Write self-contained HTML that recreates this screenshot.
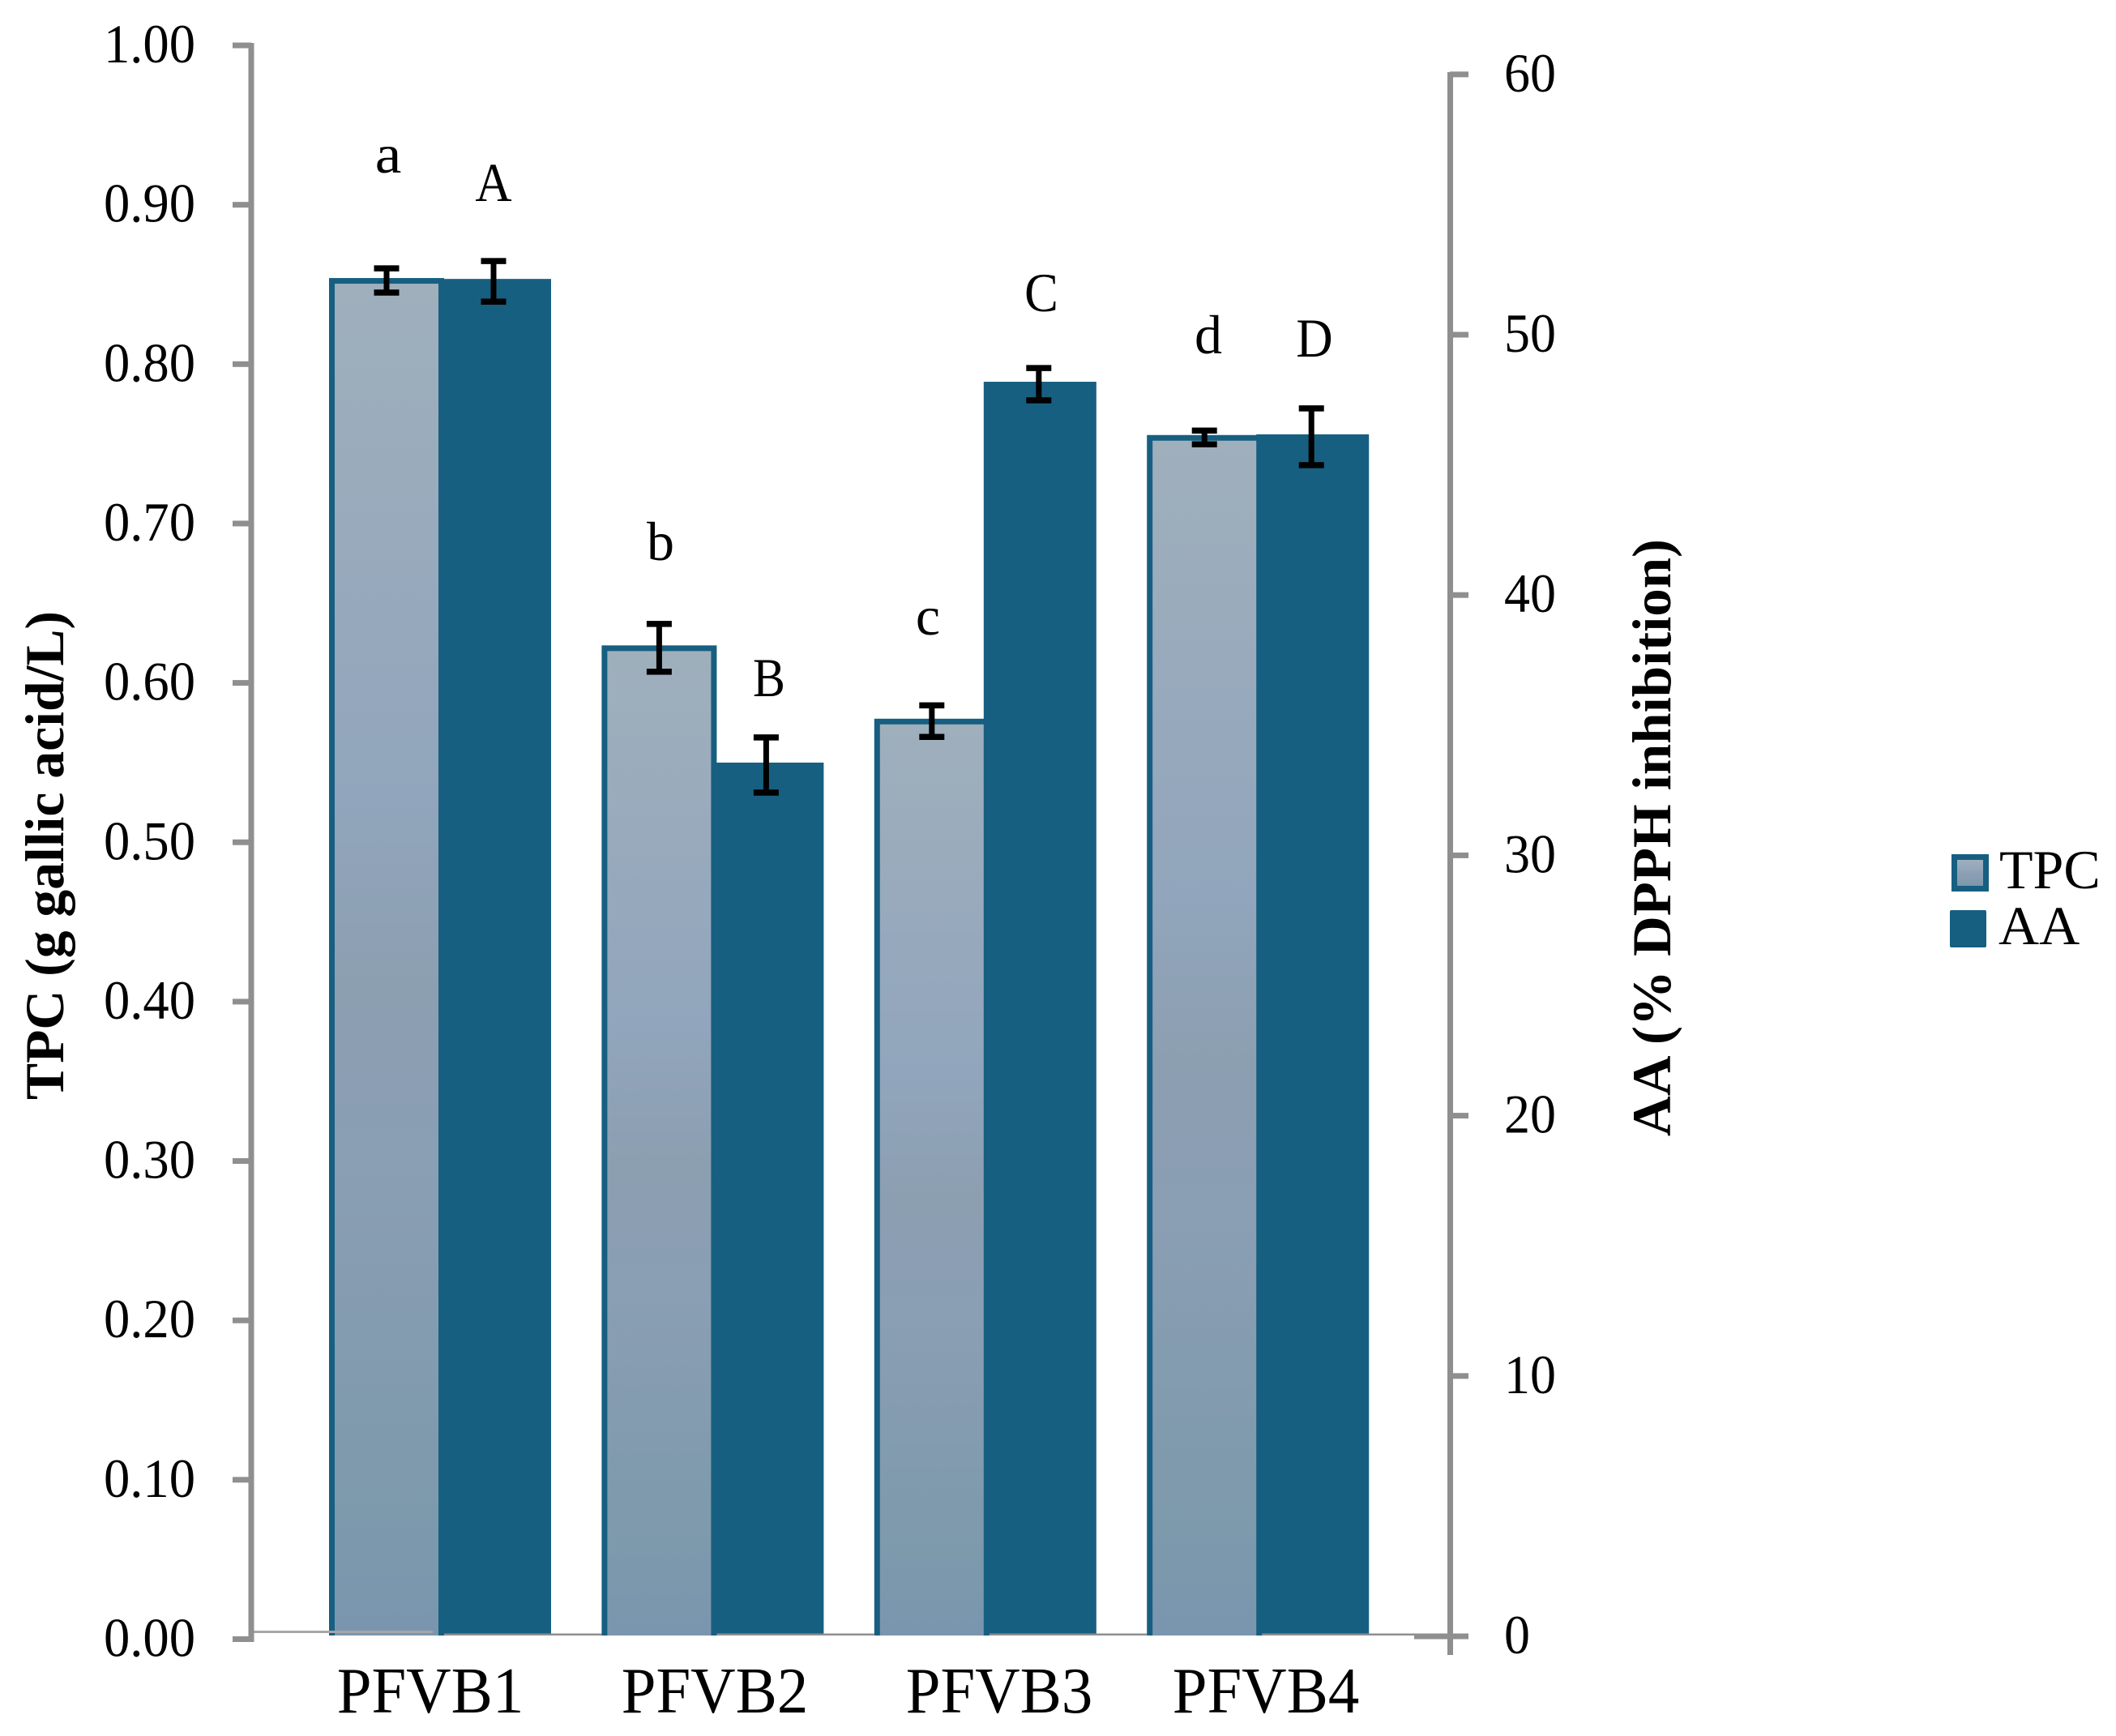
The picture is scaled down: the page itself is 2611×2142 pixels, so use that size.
<!DOCTYPE html>
<html lang="en">
<head>
<meta charset="utf-8">
<title>TPC and AA by PFVB sample</title>
<style>
  html, body { margin: 0; padding: 0; background: #fff; }
  svg { display: block; font-family: "Liberation Serif", serif; fill: #000; }
</style>
</head>
<body>
<svg id="chart" xmlns="http://www.w3.org/2000/svg" width="2611" height="2142" viewBox="0 0 2611 2142">
  <defs>
    <linearGradient id="tpc-fill" x1="0" y1="0" x2="0" y2="1">
      <stop offset="0" stop-color="#9fafbc"/>
      <stop offset="0.38" stop-color="#91a5bc"/>
      <stop offset="0.52" stop-color="#8c9fb1"/>
      <stop offset="0.65" stop-color="#8a9eb4"/>
      <stop offset="0.88" stop-color="#7e9aac"/>
      <stop offset="1" stop-color="#7a96ae"/>
    </linearGradient>
  </defs>
  <rect x="0" y="0" width="2611" height="2142" fill="#ffffff"/>
  <g id="bars"></g>
  <g id="errors"></g>
  <g id="axes"></g>

  <g font-size="68">
    <text text-anchor="middle" transform="translate(479 213) scale(1.08 1)">a</text>
    <text text-anchor="middle" transform="translate(609 248) scale(.92 1)">A</text>
    <text text-anchor="middle" transform="translate(815 691) scale(1 1)">b</text>
    <text text-anchor="middle" transform="translate(949 859) scale(.88 1)">B</text>
    <text text-anchor="middle" transform="translate(1145 783) scale(1 1)">c</text>
    <text text-anchor="middle" transform="translate(1285 384) scale(.92 1)">C</text>
    <text text-anchor="middle" transform="translate(1491 436) scale(1 1)">d</text>
    <text text-anchor="middle" transform="translate(1622 440) scale(.92 1)">D</text>
  </g>

  <text font-size="68" font-weight="bold" textLength="603" lengthAdjust="spacingAndGlyphs" transform="translate(78 1357) rotate(-90)">TPC (g gallic acid/L)</text>
  <text font-size="68" font-weight="bold" textLength="737" lengthAdjust="spacingAndGlyphs" transform="translate(2061 1402) rotate(-90)">AA (% DPPH inhibition)</text>

  <g>
    <rect x="2408" y="1054" width="46" height="46" fill="#175f81"/>
    <rect x="2415" y="1061" width="32" height="32" fill="url(#tpc-fill)"/>
    <text font-size="68" transform="translate(2467 1096) scale(1 1)">TPC</text>
    <rect x="2406" y="1123" width="45" height="46" rx="2" fill="#175f81"/>
    <text font-size="68" transform="translate(2466 1165) scale(1.02 1)">AA</text>
  </g>
</svg>
<script>
// ---- chart data ----
const categories = ['PFVB1', 'PFVB2', 'PFVB3', 'PFVB4'];
const tpcValues = [0.8525, 0.622, 0.576, 0.754];
const tpcErrors = [0.0076, 0.015, 0.0099, 0.0043];
const aaValues = [52.05, 33.47, 48.1, 46.08];
const aaErrors = [0.78, 1.06, 0.62, 1.09];
const leftTickLabels = ['0.00', '0.10', '0.20', '0.30', '0.40', '0.50', '0.60', '0.70', '0.80', '0.90', '1.00'];
const rightTickLabels = ['0', '10', '20', '30', '40', '50', '60'];

// ---- axis functions ----
function yLeft(v) { return 2022.5 - v * 1966.5; }
function yRight(v) { return 2019 - v * 32.12; }
function groupX(i) { return 406 + i * 336.4; }
function categoryLabelX(i) { return i < 3 ? 531 + i * 351 : 1562; }

const NS = 'http://www.w3.org/2000/svg';
const BASE_Y = 2018;
const DARK = '#175f81';
const GREY = '#8f8f8f';

function makeRect(parent, x, y, w, h, fill) {
  const r = document.createElementNS(NS, 'rect');
  r.setAttribute('x', x);
  r.setAttribute('y', y);
  r.setAttribute('width', w);
  r.setAttribute('height', h);
  r.setAttribute('fill', fill);
  parent.appendChild(r);
  return r;
}
function makeText(parent, str, size, x, y, sx, anchor) {
  const t = document.createElementNS(NS, 'text');
  t.textContent = str;
  t.setAttribute('font-size', size);
  t.setAttribute('text-anchor', anchor);
  t.setAttribute('transform', 'translate(' + x + ' ' + y + ') scale(' + sx + ' 1)');
  parent.appendChild(t);
  return t;
}

const barsG = document.getElementById('bars');
const errG = document.getElementById('errors');
const axesG = document.getElementById('axes');

// TPC outlines sit behind the AA bars
categories.forEach(function (c, i) {
  const g = groupX(i);
  const top = yLeft(tpcValues[i]) - 3;
  const outline = makeRect(barsG, g, top, 142, BASE_Y - top, DARK);
  
  
});
// AA bars
categories.forEach(function (c, i) {
  const g = groupX(i);
  const top = yRight(aaValues[i]) - 3;
  const bar = makeRect(barsG, g + 135, top, 139, BASE_Y - top, DARK);
  
  
});
// TPC gradient fills
categories.forEach(function (c, i) {
  const g = groupX(i);
  const top = yLeft(tpcValues[i]) + 4;
  const bar = makeRect(barsG, g + 7, top, 128, BASE_Y - top, 'url(#tpc-fill)');
  
  
});
// Baseline pieces between the TPC bars
categories.forEach(function (c, i) {
  const start = groupX(i) + 142;
  const end = i < categories.length - 1 ? groupX(i + 1) : 1745;
  const seg = makeRect(axesG, start, 2015.5, end - start, 2.5, GREY);
  
  
});
const firstBase = makeRect(axesG, 307, 2012, 227, 3, '#a6a6a6');



// Error bars
function errorBar(parent, x, yHigh, yLow) {
  const g = document.createElementNS(NS, 'g');
  makeRect(g, x - 3.5, yHigh, 7, yLow - yHigh, '#000');
  makeRect(g, x - 15.5, yHigh - 3.75, 31, 7.5, '#000');
  makeRect(g, x - 15.5, yLow - 3.75, 31, 7.5, '#000');
  parent.appendChild(g);
  return g;
}
categories.forEach(function (c, i) {
  const g = groupX(i);
  const e1 = errorBar(errG, g + 71, yLeft(tpcValues[i] + tpcErrors[i]), yLeft(tpcValues[i] - tpcErrors[i]));
  
  
  const e2 = errorBar(errG, g + 203, yRight(aaValues[i] + aaErrors[i]), yRight(aaValues[i] - aaErrors[i]));
  
  
});

// Left axis
const leftLine = makeRect(axesG, 306.5, 53, 7, 1973, GREY);


leftTickLabels.forEach(function (lab) {
  const y = yLeft(parseFloat(lab));
  const tick = makeRect(axesG, 287, y - 3.5, 23, 7, GREY);
  
  
  const t = makeText(axesG, lab, 68, 241, y + 21, 0.95, 'end');
  
  
});

// Right axis
const rightLine = makeRect(axesG, 1786, 89, 7, 1953, GREY);


rightTickLabels.forEach(function (lab) {
  const v = parseFloat(lab);
  const y = yRight(v);
  const x0 = v === 0 ? 1745 : 1789;
  const tick = makeRect(axesG, x0, y - 3.5, 1812 - x0, 7, GREY);
  
  
  const t = makeText(axesG, lab, 68, 1856, y + 21, 0.94, 'start');
  
  
});

// Category labels
categories.forEach(function (c, i) {
  const t = makeText(axesG, c, 80, categoryLabelX(i), 2113, 0.96, 'middle');
  
  
});
</script>
</body>
</html>
